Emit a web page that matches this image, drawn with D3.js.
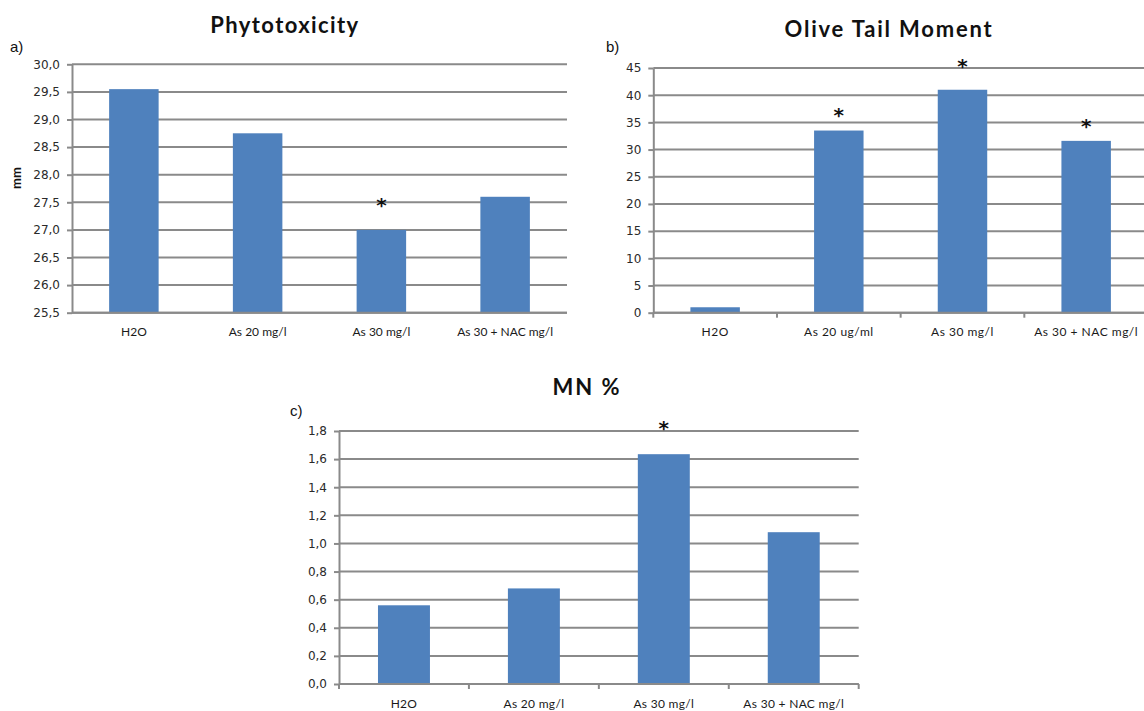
<!DOCTYPE html>
<html><head><meta charset="utf-8">
<script src="https://cdn.jsdelivr.net/npm/d3@7"></script>
<style>body{margin:0;background:#fff;} svg{display:block;}</style>
</head><body>
<svg id="chart" width="1144" height="711"></svg>
<script>
// ---------- data ----------
const catsA = ["H2O", "As 20 mg/l", "As 30 mg/l", "As 30 + NAC mg/l"];
const valsA = [29.55, 28.75, 27.0, 27.6];
const starsA = [null, null, 27.5, null];
const ticksA = [25.5, 26.0, 26.5, 27.0, 27.5, 28.0, 28.5, 29.0, 29.5, 30.0];

const catsB = ["H2O", "As 20 ug/ml", "As 30 mg/l", "As 30 + NAC mg/l"];
const valsB = [1.0, 33.5, 41.0, 31.6];
const starsB = [null, 37.0, 45.9, 34.8];
const ticksB = [0, 5, 10, 15, 20, 25, 30, 35, 40, 45];

const catsC = ["H2O", "As 20 mg/l", "As 30 mg/l", "As 30 + NAC mg/l"];
const valsC = [0.56, 0.68, 1.635, 1.08];
const starsC = [null, null, 1.84, null];
const ticksC = [0.0, 0.2, 0.4, 0.6, 0.8, 1.0, 1.2, 1.4, 1.6, 1.8];

// ---------- drawing ----------
const svg = d3.select("#chart");
const BLUE = "#4f81bd", GRID = "#8a8a8a";
const comma1 = d => d3.format(".1f")(d).replace(".", ",");
const intFmt = d3.format("d");

function panel(cfg) {
  const g = svg.append("g");
  const x = d3.scaleBand().domain(cfg.cats).range([cfg.x0, cfg.x1])
    .paddingInner(0.6).paddingOuter(0.3);
  const y = d3.scaleLinear().domain([cfg.ticks[0], cfg.ticks[cfg.ticks.length - 1]])
    .range([cfg.yb, cfg.yt]);

  // gridlines
  g.append("g").selectAll("line").data(cfg.ticks).join("line")
    .attr("x1", cfg.x0).attr("x2", cfg.gridEnd)
    .attr("y1", d => y(d)).attr("y2", d => y(d))
    .attr("stroke", GRID).attr("stroke-width", 2);

  // bars
  g.append("g").selectAll("rect").data(cfg.vals).join("rect")
    .attr("x", (d, i) => x(cfg.cats[i]))
    .attr("width", x.bandwidth())
    .attr("y", d => y(d))
    .attr("height", d => y(cfg.ticks[0]) - y(d))
    .attr("fill", BLUE);

  // baseline
  g.append("line").attr("x1", cfg.x0).attr("x2", cfg.gridEnd)
    .attr("y1", y(cfg.ticks[0])).attr("y2", y(cfg.ticks[0]))
    .attr("stroke", GRID).attr("stroke-width", 2);

  // category boundary ticks
  if (cfg.xTicks) {
    const step = x.step(), off = (step - x.bandwidth()) / 2;
    const bounds = cfg.cats.map(c => x(c) - off).concat([x(cfg.cats[cfg.cats.length - 1]) + x.bandwidth() + off]);
    g.append("g").selectAll("line").data(bounds).join("line")
      .attr("x1", d => d).attr("x2", d => d)
      .attr("y1", y(cfg.ticks[0])).attr("y2", y(cfg.ticks[0]) + 5)
      .attr("stroke", GRID).attr("stroke-width", 2);
  }

  // y axis
  const ya = g.append("g").attr("transform", `translate(${cfg.x0},0)`)
    .call(d3.axisLeft(y).tickValues(cfg.ticks).tickSize(5).tickSizeOuter(0)
      .tickPadding(7).tickFormat(cfg.fmt));
  ya.select(".domain").attr("stroke", GRID).attr("stroke-width", 2);
  ya.selectAll(".tick line").attr("stroke", GRID).attr("stroke-width", 2);
  ya.selectAll("text").attr("font-family", "DejaVu Sans").attr("font-size", 12).attr("fill", "#2a2a2a");

  // x axis labels
  const xa = g.append("g").attr("transform", `translate(0,${y(cfg.ticks[0])})`)
    .call(d3.axisBottom(x).tickSize(0).tickPadding(15));
  xa.select(".domain").remove();
  xa.selectAll("text").attr("font-family", "Lato").attr("font-size", 12)
    .attr("letter-spacing", cfg.labelLS).attr("fill", "#1a1a1a");

  // asterisks
  g.append("g").selectAll("text").data(cfg.stars.map((s, i) => ({ s, c: cfg.cats[i] })).filter(d => d.s !== null))
    .join("text")
    .attr("x", d => x(d.c) + x.bandwidth() / 2)
    .attr("y", d => y(d.s) + 10)
    .attr("text-anchor", "middle")
    .attr("font-family", "DejaVu Sans").attr("font-weight", "bold").attr("font-size", 20)
    .attr("fill", "#111")
    .text("*");

  // title
  svg.append("text").attr("x", cfg.titleX).attr("y", cfg.titleY)
    .attr("text-anchor", "middle").attr("font-family", "Lato").attr("font-weight", "bold")
    .attr("font-size", 22).attr("letter-spacing", cfg.titleLS).attr("fill", "#111").text(cfg.title);

  // panel letter
  svg.append("text").attr("x", cfg.letterX).attr("y", cfg.letterY)
    .attr("font-family", "Liberation Sans").attr("font-size", 15).attr("fill", "#111").text(cfg.letter);
}

panel({ cats: catsA, vals: valsA, stars: starsA, ticks: ticksA, fmt: comma1,
  x0: 72, x1: 567, gridEnd: 567, yb: 312.7, yt: 64.3, xTicks: false, labelLS: 0,
  title: "Phytotoxicity", titleX: 285, titleY: 33, titleLS: 1.4, letter: "a)", letterX: 10, letterY: 52 });

panel({ cats: catsB, vals: valsB, stars: starsB, ticks: ticksB, fmt: intFmt,
  x0: 653.3, x1: 1148, gridEnd: 1144, yb: 312.7, yt: 68, xTicks: true, labelLS: 0.5,
  title: "Olive Tail Moment", titleX: 889, titleY: 36.5, titleLS: 1.8, letter: "b)", letterX: 606, letterY: 52 });

panel({ cats: catsC, vals: valsC, stars: starsC, ticks: ticksC, fmt: comma1,
  x0: 339, x1: 858.7, gridEnd: 858.7, yb: 684, yt: 431, xTicks: true, labelLS: 0.3,
  title: "MN %", titleX: 587, titleY: 395, titleLS: 2, letter: "c)", letterX: 290, letterY: 416 });

// y axis title for panel a
svg.append("text").attr("transform", "translate(21,178) rotate(-90)")
  .attr("text-anchor", "middle").attr("font-family", "Lato").attr("font-weight", "bold")
  .attr("font-size", 13).attr("fill", "#111").text("mm");
</script>
</body></html>
